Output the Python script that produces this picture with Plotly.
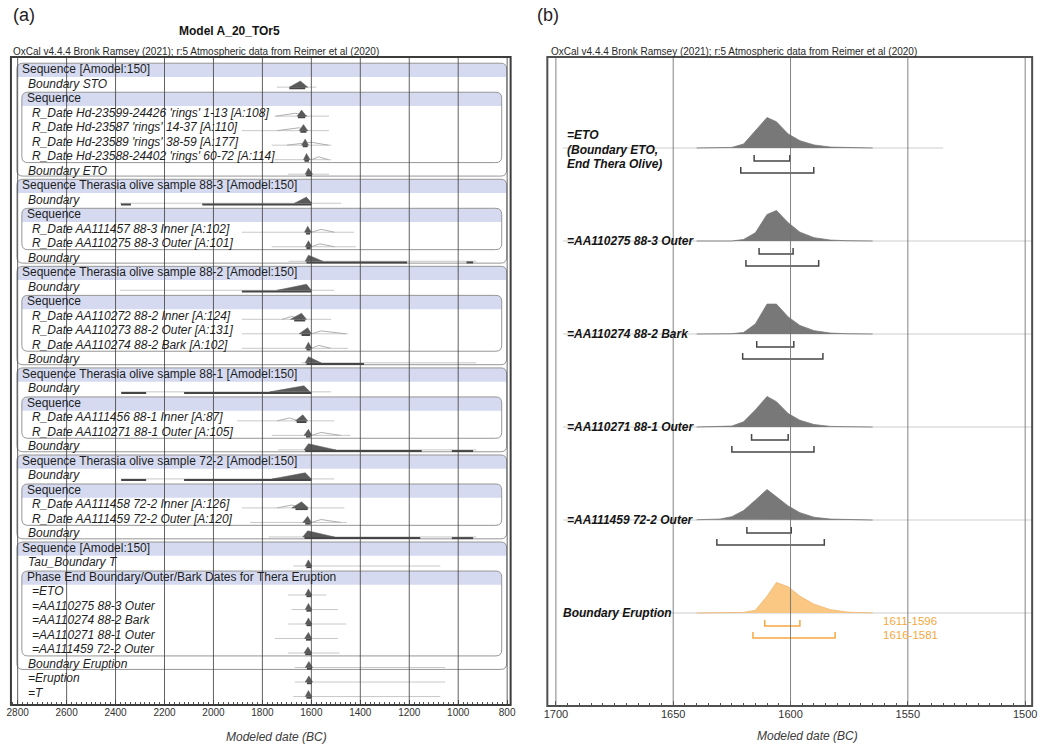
import plotly.graph_objects as go

W, H = 1054, 747

# ---------------- Panel (a) data ----------------
a_labels = [
    "Sequence [Amodel:150]", "Boundary STO", "Sequence",
    "R_Date Hd-23599-24426 'rings' 1-13 [A:108]",
    "R_Date Hd-23587 'rings' 14-37 [A:110]",
    "R_Date Hd-23589 'rings' 38-59 [A:177]",
    "R_Date Hd-23588-24402 'rings' 60-72 [A:114]",
    "Boundary ETO",
    "Sequence Therasia olive sample 88-3 [Amodel:150]", "Boundary", "Sequence",
    "R_Date AA111457 88-3 Inner [A:102]", "R_Date AA110275 88-3 Outer [A:101]", "Boundary",
    "Sequence Therasia olive sample 88-2 [Amodel:150]", "Boundary", "Sequence",
    "R_Date AA110272 88-2 Inner [A:124]", "R_Date AA110273 88-2 Outer [A:131]",
    "R_Date AA110274 88-2 Bark [A:102]", "Boundary",
    "Sequence Therasia olive sample 88-1 [Amodel:150]", "Boundary", "Sequence",
    "R_Date AA111456 88-1 Inner [A:87]", "R_Date AA110271 88-1 Outer [A:105]", "Boundary",
    "Sequence Therasia olive sample 72-2 [Amodel:150]", "Boundary", "Sequence",
    "R_Date AA111458 72-2 Inner [A:126]", "R_Date AA111459 72-2 Outer [A:120]", "Boundary",
    "Sequence [Amodel:150]", "Tau_Boundary T",
    "Phase End Boundary/Outer/Bark Dates for Thera Eruption",
    "=ETO", "=AA110275 88-3 Outer", "=AA110274 88-2 Bark", "=AA110271 88-1 Outer",
    "=AA111459 72-2 Outer", "Boundary Eruption", "=Eruption", "=T",
]
# 0 = outer header, 1 = inner header, 2 = outer entry, 3 = inner entry
a_level = [0, 2, 1, 3, 3, 3, 3, 2,
           0, 2, 1, 3, 3, 2,
           0, 2, 1, 3, 3, 3, 2,
           0, 2, 1, 3, 3, 2,
           0, 2, 1, 3, 3, 2,
           0, 2, 1, 3, 3, 3, 3, 3, 2, 2, 2]
# light range lines (BC)
a_light = {1: [1741, 1580], 3: [1750, 1528], 4: [1884, 1528], 5: [1762, 1519], 6: [1750, 1519],
           7: [1695, 1528], 9: [2382, 1478], 11: [1884, 1426], 12: [1762, 1418], 13: [1693, 926],
           15: [2382, 1507], 17: [1884, 1519], 18: [1884, 1450], 19: [1884, 1450], 20: [1640, 926],
           22: [2378, 1519], 24: [1903, 1507], 25: [1762, 1440], 26: [1735, 926],
           28: [2378, 1507], 30: [1884, 1465], 31: [1850, 1455], 32: [1774, 926],
           34: [1674, 1073], 36: [1695, 1539], 37: [1681, 1492], 38: [1695, 1458],
           39: [1749, 1492], 40: [1695, 1485], 41: [1668, 1053], 42: [1668, 1053], 43: [1674, 1073]}
# highest posterior density ranges (BC)
a_hpd = {1: [[1690, 1625]], 3: [[1655, 1625]], 4: [[1645, 1620]], 5: [[1635, 1615]], 6: [[1628, 1610]],
         7: [[1621, 1598]], 9: [[2378, 2337], [2046, 1600]], 11: [[1622, 1605]], 12: [[1620, 1603]],
         13: [[1620, 1209], [966, 939]], 15: [[1884, 1600]], 17: [[1670, 1625]], 18: [[1640, 1605]],
         19: [[1620, 1603]], 20: [[1620, 1385]], 22: [[2377, 2275], [2120, 1600]], 24: [[1660, 1620]],
         25: [[1622, 1603]], 26: [[1625, 1149], [1026, 939]], 28: [[2377, 2275], [2120, 1600]],
         30: [[1665, 1615]], 31: [[1625, 1603]], 32: [[1628, 1155], [1026, 939]],
         34: [[1620, 1600]], 36: [[1620, 1600]], 37: [[1620, 1600]], 38: [[1620, 1600]],
         39: [[1622, 1600]], 40: [[1625, 1600]], 41: [[1618, 1598]], 42: [[1618, 1598]], 43: [[1620, 1600]]}
# posterior [start, peak, end] (BC)
a_post = {1: [1690, 1645, 1615], 3: [1658, 1640, 1620], 4: [1650, 1632, 1615], 5: [1640, 1625, 1612],
          6: [1632, 1620, 1605], 7: [1625, 1612, 1595], 9: [1669, 1620, 1598], 11: [1628, 1615, 1600],
          12: [1625, 1612, 1598], 13: [1625, 1612, 1553], 15: [1740, 1620, 1600], 17: [1685, 1640, 1620],
          18: [1650, 1615, 1600], 19: [1625, 1612, 1598], 20: [1625, 1612, 1560], 22: [1770, 1630, 1605],
          24: [1665, 1635, 1615], 25: [1630, 1612, 1598], 26: [1630, 1612, 1500], 28: [1760, 1625, 1600],
          30: [1680, 1640, 1612], 31: [1635, 1615, 1600], 32: [1635, 1615, 1505], 34: [1625, 1612, 1598],
          36: [1625, 1612, 1598], 37: [1625, 1612, 1598], 38: [1625, 1612, 1598], 39: [1628, 1612, 1598],
          40: [1630, 1614, 1598], 41: [1625, 1610, 1595], 42: [1625, 1610, 1595], 43: [1625, 1612, 1598]}
# unmodelled likelihoods [start, peak, end] (BC)
a_prior = {3: [1745, 1665, 1615], 4: [1740, 1650, 1610], 5: [1700, 1600, 1530], 6: [1600, 1570, 1530],
           11: [1600, 1560, 1505], 12: [1600, 1565, 1505], 17: [1720, 1680, 1640], 18: [1600, 1560, 1460],
           19: [1600, 1570, 1520], 24: [1740, 1690, 1650], 25: [1600, 1560, 1480],
           30: [1740, 1680, 1640], 31: [1600, 1560, 1480]}
groups_outer = [(0, 7), (8, 13), (14, 20), (21, 26), (27, 32), (33, 41)]
groups_inner = [(2, 6), (10, 12), (16, 19), (23, 25), (29, 31), (35, 40)]
a_ticks = [2800, 2600, 2400, 2200, 2000, 1800, 1600, 1400, 1200, 1000, 800]

# ---------------- Panel (b) data ----------------
b_labels = ["=ETO\n(Boundary ETO,\nEnd Thera Olive)", "=AA110275 88-3 Outer", "=AA110274 88-2 Bark",
            "=AA110271 88-1 Outer", "=AA111459 72-2 Outer", "Boundary Eruption"]
b_years = [1640, 1630, 1625, 1620, 1615, 1610, 1606, 1601, 1596, 1590, 1583, 1576, 1565]
b_dens = [
    [0, 0, 0.02, 0.13, 0.55, 1.0, 0.86, 0.46, 0.24, 0.10, 0.03, 0.01, 0],
    [0, 0, 0, 0.05, 0.27, 0.87, 1.0, 0.60, 0.29, 0.11, 0.03, 0.01, 0],
    [0, 0, 0.01, 0.05, 0.33, 0.98, 0.98, 0.56, 0.28, 0.11, 0.03, 0.01, 0],
    [0, 0.01, 0.03, 0.17, 0.56, 1.0, 0.83, 0.44, 0.22, 0.08, 0.02, 0.01, 0],
    [0.01, 0.03, 0.11, 0.31, 0.65, 1.0, 0.76, 0.46, 0.24, 0.09, 0.03, 0.01, 0],
    [0, 0, 0, 0.02, 0.09, 0.55, 1.0, 0.86, 0.55, 0.29, 0.11, 0.03, 0],
]
b_hpd68 = [[1615.5, 1600.3], [1613.4, 1598.9], [1614.4, 1598.6], [1616.6, 1601.0], [1618.6, 1599.7], [1611, 1596]]
b_hpd95 = [[1621.2, 1590.1], [1619.0, 1588.0], [1620.4, 1586.2], [1625.0, 1590.0], [1631.4, 1585.6], [1616, 1581]]
b_line = [[1697, 1535], [1697, 1497], [1697, 1497], [1697, 1497], [1697, 1497], [1697, 1497]]
b_ticks = [1700, 1650, 1600, 1550, 1500]

# ---------------- geometry helpers ----------------
FONT = "Liberation Sans"
GRAY_D = "rgb(120,120,120)"
ORANGE_F = "rgb(250,200,130)"
ORANGE_L = "rgb(246,168,66)"


def px(x):
    return x / W


def py(y):
    return 1 - y / H


# panel a: x px = 310 + (1600 - year) * 0.24685 ; row px = 69 + 14.51 * row
A_SC = 0.24685


def a_year(xpx):
    return 1600 + (310 - xpx) / A_SC


a_xrange = [a_year(7), a_year(511)]
a_yrange = [(705 - 69) / 14.51, (57 - 69) / 14.51]
# panel b: x px = 793.3 + (1600 - year) * 2.3667 ; row px = 148 + 93 * row
B_SC = 2.3667
b_xrange = [1600 + (793.3 - 548) / B_SC, 1600 - (1037 - 793.3) / B_SC]
b_yrange = [(706 - 148) / 93, (57 - 148) / 93]
B_H = 30.5 / 93

fig = go.Figure()

# ---------- panel a traces ----------
lx, ly = [], []
for r, (s, e) in a_light.items():
    lx += [s, e, None]
    ly += [r + 0.25, r + 0.25, None]
fig.add_trace(go.Scatter(x=lx, y=ly, mode="lines", line=dict(color="rgb(200,200,200)", width=1),
                         xaxis="x", yaxis="y", hoverinfo="skip", showlegend=False))

prx, pry = [], []
for r, (s, p, e) in a_prior.items():
    prx += [s, p, e, None]
    pry += [r + 0.25, r + 0.25 - 0.2, r + 0.25, None]
fig.add_trace(go.Scatter(x=prx, y=pry, mode="lines", line=dict(color="rgb(175,175,175)", width=1),
                         xaxis="x", yaxis="y", hoverinfo="skip", showlegend=False))

hx, hy = [], []
for r, segs in a_hpd.items():
    for s, e in segs:
        hx += [s, e, None]
        hy += [r + 0.33, r + 0.33, None]
fig.add_trace(go.Scatter(x=hx, y=hy, mode="lines", line=dict(color="rgb(70,70,70)", width=2),
                         xaxis="x", yaxis="y", hoverinfo="skip", showlegend=False))

ppx, ppy = [], []
for r, (s, p, e) in a_post.items():
    ppx += [s, p, e, s, None]
    ppy += [r + 0.25, r + 0.25 - 0.42, r + 0.25, r + 0.25, None]
fig.add_trace(go.Scatter(x=ppx, y=ppy, mode="lines", fill="toself", fillcolor="rgb(90,90,90)",
                         line=dict(color="rgb(90,90,90)", width=0.5),
                         xaxis="x", yaxis="y", hoverinfo="skip", showlegend=False))

# ---------- panel b traces ----------
for i in range(len(b_labels)):
    fig.add_trace(go.Scatter(x=b_line[i], y=[i, i], mode="lines", line=dict(color="rgb(205,205,205)", width=1),
                             xaxis="x2", yaxis="y2", hoverinfo="skip", showlegend=False))
for i, dens in enumerate(b_dens):
    orange = (i == len(b_dens) - 1)
    fig.add_trace(go.Scatter(
        x=b_years, y=[i - d * B_H for d in dens], mode="lines", fill="toself",
        fillcolor=ORANGE_F if orange else GRAY_D,
        line=dict(color=("rgb(240,180,110)" if orange else GRAY_D), width=0.8),
        xaxis="x2", yaxis="y2", hoverinfo="skip", showlegend=False))

for i in range(len(b_labels)):
    orange = (i == len(b_labels) - 1)
    bx, by = [], []
    for (a, b), off in ((b_hpd68[i], 13 / 93), (b_hpd95[i], 25 / 93)):
        t = 6 / 93
        bx += [a, a, b, b, None]
        by += [i + off - t, i + off, i + off, i + off - t, None]
    fig.add_trace(go.Scatter(x=bx, y=by, mode="lines",
                             line=dict(color=ORANGE_L if orange else "rgb(70,70,70)", width=1.5),
                             xaxis="x2", yaxis="y2", hoverinfo="skip", showlegend=False))

# ---------- shapes ----------
shapes = []


def rrect(x0, x1, y0, y1, rx, ry, top_only=False):
    # x0 left(year, larger), x1 right(year, smaller)
    if top_only:
        return (f"M {x0},{y1} L {x0},{y0 + ry} Q {x0},{y0} {x0 - rx},{y0} "
                f"L {x1 + rx},{y0} Q {x1},{y0} {x1},{y0 + ry} L {x1},{y1} Z")
    return (f"M {x0 - rx},{y0} L {x1 + rx},{y0} Q {x1},{y0} {x1},{y0 + ry} "
            f"L {x1},{y1 - ry} Q {x1},{y1} {x1 + rx},{y1} L {x0 - rx},{y1} "
            f"Q {x0},{y1} {x0},{y1 - ry} L {x0},{y0 + ry} Q {x0},{y0} {x0 - rx},{y0} Z")


RX = 6 / A_SC
RY = 6 / 14.51
band = "rgb(213,218,240)"
for (r0, r1), (xl, xr, bot) in [(g, (13, 507, 0.38)) for g in groups_outer] + \
                                [(g, (18, 502, 0.45)) for g in groups_inner]:
    x0, x1 = a_year(xl), a_year(xr)
    y0, y1 = r0 - 0.40, r1 + bot
    shapes.append(dict(type="path", xref="x", yref="y", layer="below",
                       path=rrect(x0, x1, y0, r0 + 0.55, RX, RY, top_only=True),
                       fillcolor=band, line=dict(width=0)))
    shapes.append(dict(type="path", xref="x", yref="y", layer="below",
                       path=rrect(x0, x1, y0, y1, RX, RY),
                       fillcolor="rgba(0,0,0,0)", line=dict(color="rgb(150,150,150)", width=1)))

# grid lines drawn over marks
for t in a_ticks:
    shapes.append(dict(type="line", xref="x", yref="y domain", x0=t, x1=t, y0=0, y1=1, layer="above",
                       line=dict(color="rgba(70,70,70,0.85)", width=1)))
for t in b_ticks:
    shapes.append(dict(type="line", xref="x2", yref="y2 domain", x0=t, x1=t, y0=0, y1=1, layer="above",
                       line=dict(color="rgba(110,110,110,0.85)", width=1)))

# frames
shapes.append(dict(type="rect", xref="paper", yref="paper", x0=px(7), x1=px(511), y0=py(705), y1=py(57),
                   line=dict(color="rgb(60,60,60)", width=2), layer="above"))
shapes.append(dict(type="rect", xref="paper", yref="paper", x0=px(548), x1=px(1037), y0=py(706), y1=py(57),
                   line=dict(color="rgb(80,80,80)", width=2), layer="above"))

# ---------- annotations ----------
ann = []
lvl_x = [16, 20.7, 21.7, 26.7]
for r, (lab, lv) in enumerate(zip(a_labels, a_level)):
    txt = lab if lv in (0, 1) else f"<i>{lab}</i>"
    ann.append(dict(text=txt, xref="paper", yref="y", x=px(lvl_x[lv]), y=r, xanchor="left", yanchor="middle",
                    showarrow=False, font=dict(family=FONT, size=12, color="rgb(30,30,30)")))

for i, lab in enumerate(b_labels):
    parts = lab.split("\n")
    if len(parts) == 1:
        ann.append(dict(text=f"<b><i>{lab}</i></b>", xref="paper", yref="y2",
                        x=px(562 if i == len(b_labels) - 1 else 566), y=i,
                        xanchor="left", yanchor="middle", showarrow=False,
                        font=dict(family=FONT, size=12, color="rgb(20,20,20)")))
    else:
        for k, part in enumerate(parts):
            ann.append(dict(text=f"<b><i>{part}</i></b>", xref="paper", yref="y2",
                            x=px(566), y=i + (-13 + 14.5 * k) / 93,
                            xanchor="left", yanchor="middle", showarrow=False,
                            font=dict(family=FONT, size=12, color="rgb(20,20,20)")))

last = len(b_labels) - 1
for (a, b), off in ((b_hpd68[last], 7.7 / 93), (b_hpd95[last], 22 / 93)):
    ann.append(dict(text=f"{round(a)}-{round(b)}", xref="x2", yref="y2", x=1561.3, y=last + off,
                    xanchor="left", yanchor="middle", showarrow=False,
                    font=dict(family=FONT, size=11.5, color=ORANGE_L)))

hdr = "OxCal v4.4.4 Bronk Ramsey (2021); r:5 Atmospheric data from Reimer et al (2020)"
for x0 in (7.5, 549.5):
    ann.append(dict(text=hdr, xref="paper", yref="paper", x=px(x0), y=py(51.5), xanchor="left",
                    yanchor="middle", showarrow=False, font=dict(family=FONT, size=10, color="rgb(40,40,40)")))
ann.append(dict(text="(a)", xref="paper", yref="paper", x=px(7), y=py(15), xanchor="left", yanchor="middle",
                showarrow=False, font=dict(family=FONT, size=18, color="rgb(30,30,30)")))
ann.append(dict(text="(b)", xref="paper", yref="paper", x=px(536), y=py(15), xanchor="left", yanchor="middle",
                showarrow=False, font=dict(family=FONT, size=18, color="rgb(30,30,30)")))
ann.append(dict(text="<b>Model A_20_TOr5</b>", xref="paper", yref="paper", x=px(227), y=py(31),
                xanchor="center", yanchor="middle", showarrow=False,
                font=dict(family=FONT, size=12, color="rgb(20,20,20)")))
for xc, yc in ((275, 737), (810, 736)):
    ann.append(dict(text="<i>Modeled date (BC)</i>", xref="paper", yref="paper", x=px(xc), y=py(yc),
                    xanchor="center", yanchor="middle", showarrow=False,
                    font=dict(family=FONT, size=12, color="rgb(60,60,60)")))

axis_common = dict(showgrid=False, zeroline=False, showline=False, ticks="inside", ticklen=5,
                   tickcolor="rgb(60,60,60)", tickwidth=1)
fig.update_layout(
    width=W, height=H, margin=dict(l=0, r=0, t=0, b=0),
    paper_bgcolor="white", plot_bgcolor="white", showlegend=False,
    xaxis=dict(domain=[px(7), px(511)], range=a_xrange, tickvals=a_ticks,
               ticktext=[str(t) for t in a_ticks], anchor="y",
               tickfont=dict(family=FONT, size=10, color="rgb(50,50,50)"),
               minor=dict(dtick=20, ticks="inside", ticklen=3, tickcolor="rgb(80,80,80)", showgrid=False),
               **axis_common),
    yaxis=dict(domain=[py(705), py(57)], range=a_yrange, visible=False, anchor="x"),
    xaxis2=dict(domain=[px(548), px(1037)], range=b_xrange, tickvals=b_ticks,
                ticktext=[str(t) for t in b_ticks], anchor="y2",
                tickfont=dict(family=FONT, size=11, color="rgb(50,50,50)"),
                minor=dict(dtick=5, ticks="inside", ticklen=3, tickcolor="rgb(80,80,80)", showgrid=False),
                **axis_common),
    yaxis2=dict(domain=[py(706), py(57)], range=b_yrange, visible=False, anchor="x2"),
    shapes=shapes, annotations=ann,
)

fig.write_html("out.html", config={"displayModeBar": False})

# remove the default page margin so the figure sits at the window's top-left corner
with open("out.html", encoding="utf-8") as f:
    html = f.read()
html = html.replace("<body>", '<body style="margin:0;padding:0;overflow:hidden">', 1)
with open("out.html", "w", encoding="utf-8") as f:
    f.write(html)
